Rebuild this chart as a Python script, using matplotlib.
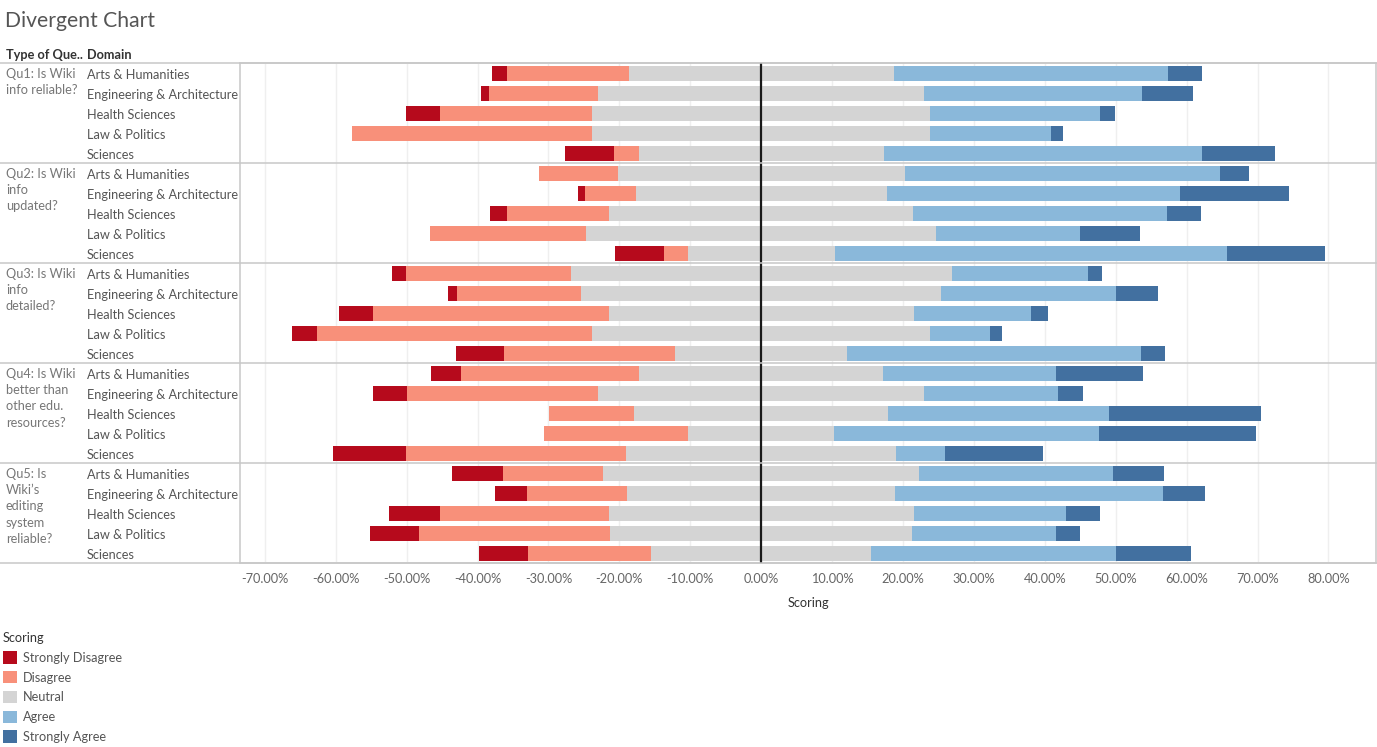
import numpy as np
import matplotlib
matplotlib.use('Agg')
import matplotlib.pyplot as plt
import matplotlib.transforms as mtransforms
from matplotlib.patches import Patch

#------------------------------------DATA----------------------------------------#

questions = ["Qu1: Is Wiki\ninfo reliable?",
             "Qu2: Is Wiki\ninfo\nupdated?",
             "Qu3: Is Wiki\ninfo\ndetailed?",
             "Qu4: Is Wiki\nbetter than\nother edu.\nresources?",
             "Qu5: Is\nWiki\u2019s\nediting\nsystem\nreliable?"]
domains = ["Arts & Humanities", "Engineering & Architecture", "Health Sciences",
           "Law & Politics", "Sciences"]
scores = ["Strongly Disagree", "Disagree", "Neutral", "Agree", "Strongly Agree"]
tick_values = [-70, -60, -50, -40, -30, -20, -10, 0, 10, 20, 30, 40, 50, 60, 70, 80]

# % of answers, one value per question/domain row (Qu1 domains, then Qu2 domains ...)
strongly_disagree = [2.0, 1.1, 4.8, 0.0, 6.9,
                     0.0, 1.1, 2.4, 0.0, 6.9,
                     2.0, 1.2, 4.8, 3.4, 6.9,
                     4.1, 4.8, 0.0, 0.0, 10.4,
                     7.2, 4.6, 7.2, 6.8, 6.9]
disagree = [17.2, 15.4, 21.4, 33.9, 3.4,
            11.1, 7.1, 14.4, 22.0, 3.4,
            23.2, 17.6, 33.3, 38.9, 24.1,
            25.2, 27.0, 12.0, 20.3, 31.0,
            14.1, 14.1, 23.8, 27.0, 17.3]
neutral = [37.4, 45.9, 47.7, 47.6, 34.6,
           40.5, 35.4, 42.9, 49.3, 20.7,
           53.7, 50.7, 43.0, 47.6, 24.2,
           34.4, 45.9, 35.8, 20.6, 38.1,
           44.5, 37.8, 43.0, 42.6, 31.1]
agree = [38.6, 30.7, 23.9, 17.0, 44.9,
         44.5, 41.3, 35.8, 20.3, 55.4,
         19.2, 24.7, 16.6, 8.5, 41.5,
         24.4, 18.9, 31.1, 37.3, 6.9,
         27.4, 37.7, 21.5, 20.3, 34.5]
strongly_agree = [4.9, 7.2, 2.2, 1.7, 10.3,
                  4.1, 15.4, 4.8, 8.5, 13.7,
                  2.0, 5.9, 2.4, 1.7, 3.4,
                  12.2, 3.6, 21.5, 22.2, 13.8,
                  7.1, 6.0, 4.8, 3.4, 10.5]

colors = ['#b60a1c', '#f8907a', '#d4d4d4', '#8ab8da', '#4270a0']

#------------------------------------PLOTTING----------------------------------------#

plt.rcParams['font.family'] = ['Lato', 'DejaVu Sans']
fs = 9.2
W, H = 1377, 747

fig = plt.figure(figsize=(W / 100, H / 100), dpi=100)
ax = fig.add_axes([240 / W, 1 - 563 / H, 1136 / W, 500 / H])

sd = np.array(strongly_disagree)
d = np.array(disagree)
n = np.array(neutral)
a = np.array(agree)
sa = np.array(strongly_agree)
rows = np.arange(len(n))
half = n / 2

h = 0.75
ax.barh(rows, n, left=-half, height=h, color=colors[2], zorder=2)
ax.barh(rows, d, left=-half - d, height=h, color=colors[1], zorder=2)
ax.barh(rows, sd, left=-half - d - sd, height=h, color=colors[0], zorder=2)
ax.barh(rows, a, left=half, height=h, color=colors[3], zorder=2)
ax.barh(rows, sa, left=half + a, height=h, color=colors[4], zorder=2)

ax.axvline(0, color='#1a1a1a', lw=1.6, zorder=3)   # zero line on top of the bars

ax.set_xlim(-73.5, 86.7)
ax.set_ylim(len(n) - 0.5, -0.5)
ax.set_xticks(tick_values)
ax.set_xticklabels(['%.2f%%' % v for v in tick_values])
ax.tick_params(axis='x', length=0, pad=7, labelsize=fs, labelcolor='#666666')
ax.set_yticks([])
ax.grid(axis='x', color='#efefef', lw=1, zorder=0)
ax.set_axisbelow(True)
ax.set_xlabel('Scoring', fontsize=fs, color='#333333', labelpad=9)
for s in ax.spines.values():
    s.set_color('#c8c8c8')
    s.set_linewidth(1.1)

# row headers (question / domain)
blend = mtransforms.blended_transform_factory(ax.transAxes, ax.transData)
x_dom = (87 - 240) / 1136
x_q = (6 - 240) / 1136
for i in rows:
    ax.text(x_dom, i + 0.08, domains[i % len(domains)], transform=blend, ha='left',
            va='center', fontsize=fs, color='#555555')
for b, q in enumerate(questions):
    ax.text(x_q, b * 5 - 0.5 + 0.25, q, transform=blend, ha='left', va='top',
            fontsize=fs, color='#777777', linespacing=1.42)
for b in range(len(questions) + 1):
    ax.plot([-240 / 1136, 1], [b * 5 - 0.5, b * 5 - 0.5], transform=blend,
            color='#c8c8c8', lw=1.1, clip_on=False, zorder=4)

fig.text(6 / W, 1 - 55 / H, 'Type of Que..', fontsize=fs, fontweight='bold',
         color='#333333', va='center')
fig.text(87 / W, 1 - 55 / H, 'Domain', fontsize=fs, fontweight='bold',
         color='#333333', va='center')
fig.text(5 / W, 1 - 21 / H, 'Divergent Chart', fontsize=15.2, color='#555555', va='center')

# legend
handles = [Patch(facecolor=c, edgecolor='none') for c in colors]
leg = fig.legend(handles, scores, loc='upper left', bbox_to_anchor=(3 / W, 1 - 632 / H),
                 bbox_transform=fig.transFigure, frameon=False, fontsize=fs,
                 title='Scoring', title_fontsize=fs, alignment='left',
                 handlelength=1.1, handleheight=1.1, handletextpad=0.45,
                 labelspacing=0.57, borderpad=0, borderaxespad=0)
leg.get_title().set_color('#333333')
for t in leg.get_texts():
    t.set_color('#555555')

plt.savefig('out.png', dpi=100)
